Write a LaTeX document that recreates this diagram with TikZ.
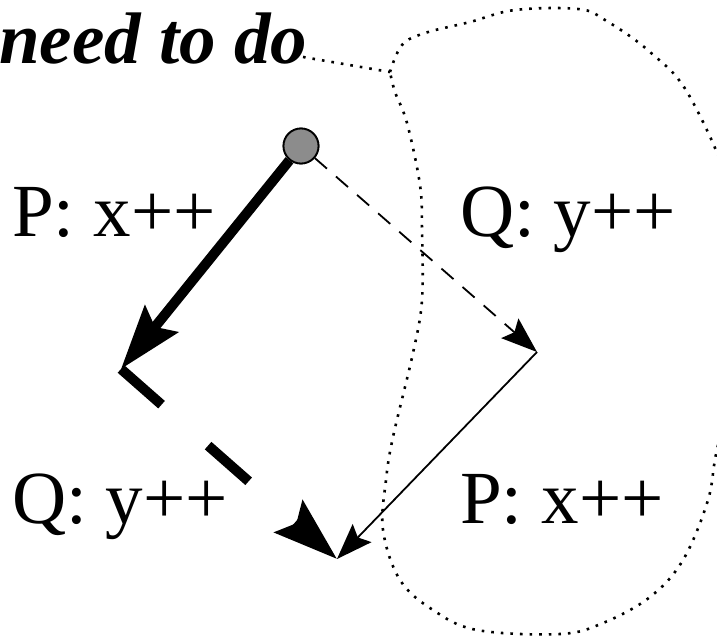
\documentclass[tikz,border=0pt]{standalone}
\usepackage{fontspec}
\setmainfont{Liberation Serif}
\usetikzlibrary{arrows.meta}
\begin{document}
\begin{tikzpicture}[x=1pt,y=-1pt,
  lbl/.style={anchor=base west, inner sep=0pt, font=\fontsize{75}{75}\selectfont},
  ttl/.style={anchor=base west, inner sep=0pt, font=\fontsize{73}{73}\selectfont\bfseries\itshape},
  dotline/.style={line width=2.6pt, dash pattern=on 2.6pt off 7pt},
  thickarr/.style={line width=10pt, -{Stealth[length=64pt,width=42pt,inset=10pt]}},
  thinarr/.style={line width=1.8pt, -{Stealth[length=36pt,width=26pt,inset=6pt]}},
  dot/.style={circle, draw=black, line width=1.8pt, fill=black!45, minimum size=35pt, inner sep=0pt}]
\useasboundingbox (0,0) rectangle (717,637);
\clip (0,0) rectangle (717,637);
% labels
\node[ttl] (t) at (-1,63) {need to do};
\node[lbl] (l1) at (12,236) {P: x++};
\node[lbl] (l2) at (460,236) {Q: y++};
\node[lbl] (l3) at (12,523) {Q: y++};
\node[lbl] (l4) at (460,523) {P: x++};
% corners
\coordinate (k) at (390,72);
\coordinate (a) at (121,369);
\coordinate (b) at (537,352);
\coordinate (c) at (337,559);
\coordinate (t1) at (303,57);
% blob
\draw[dotline] (t1) -- (k);
\draw[dotline] plot[smooth, tension=0.6] coordinates {
 (390,72) (402,45) (425,33) (470,22) (515,10) (578,9) (605,20) (650,52)
 (690,97) (735,205) (748,330) (718,445) (708,500) (683,560) (650,597)
 (603,623) (560,634) (477,630) (433,610) (400,580) (383,530) (386,480)
 (393,437) (413,353) (422,300) (422,230) (420,185) (407,123) (395,92) (390,72)};
% start node
\node[dot] (s) at (301,146) {};
% arrows
\draw[thickarr] (s) -- (a);
\draw[thickarr, dash pattern=on 54pt off 62pt] (a) -- (c);
\draw[thinarr, dash pattern=on 16pt off 12pt] (s) -- (b);
\draw[thinarr] (b) -- (c);
\node[dot] at (s) {};
\end{tikzpicture}
\end{document}
